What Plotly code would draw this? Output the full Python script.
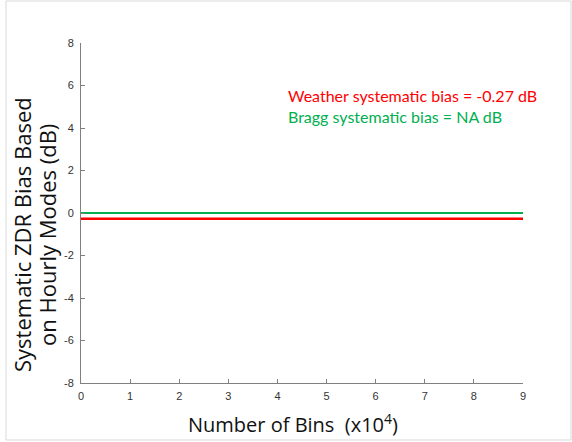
import plotly.graph_objects as go

x_bins = [0, 9]
weather_bias = [-0.27, -0.27]
bragg_bias = [0.0, 0.0]
x_ticks = [0, 1, 2, 3, 4, 5, 6, 7, 8, 9]
y_ticks = [-8, -6, -4, -2, 0, 2, 4, 6, 8]
y_tick_labels = [str(v) for v in y_ticks]

W, H = 572, 442
ml, mr, mt, mb = 81, 49, 43, 59

fig = go.Figure()
fig.add_trace(go.Scatter(x=x_bins, y=bragg_bias, mode="lines",
                         line=dict(color="#00b050", width=2), showlegend=False))
fig.add_trace(go.Scatter(x=x_bins, y=weather_bias, mode="lines",
                         line=dict(color="#ff0000", width=2.5), showlegend=False))

ann_font = "Lato, 'Open Sans', sans-serif"
title_font = "Open Sans, sans-serif"
fig.add_annotation(x=4.17, y=5.54, xref="x", yref="y", xanchor="left", yanchor="middle",
                   text="Weather systematic bias = -0.27 dB", showarrow=False,
                   font=dict(family=ann_font, size=16, color="#ff0000"))
fig.add_annotation(x=4.17, y=4.55, xref="x", yref="y", xanchor="left", yanchor="middle",
                   text="Bragg systematic bias = NA dB", showarrow=False,
                   font=dict(family=ann_font, size=16, color="#00b050"))

pw, ph = W - ml - mr, H - mt - mb
def px(xp): return (xp - ml) / pw
def py(yp): return (H - mb - yp) / ph

# axis titles
fig.add_annotation(x=px(22), y=py(235), xref="paper", yref="paper", textangle=-90,
                   xanchor="center", yanchor="middle", showarrow=False,
                   text="Systematic ZDR Bias Based",
                   font=dict(family=title_font, size=22, color="#111111"))
fig.add_annotation(x=px(47), y=py(235), xref="paper", yref="paper", textangle=-90,
                   xanchor="center", yanchor="middle", showarrow=False,
                   text="on Hourly Modes (dB)",
                   font=dict(family=title_font, size=22, color="#111111"))
fig.add_annotation(x=px(293), y=py(423), xref="paper", yref="paper",
                   xanchor="center", yanchor="middle", showarrow=False,
                   text="Number of Bins  (x10<sup>4</sup>)",
                   font=dict(family=title_font, size=20, color="#111111"))

# outer light frame
fig.add_shape(type="rect", xref="paper", yref="paper",
              x0=px(6), x1=px(571), y0=py(440), y1=py(1),
              line=dict(color="#d9d9d9", width=1), layer="below")

tick_font = dict(family="Liberation Sans, Arial", size=11, color="#333333")
fig.update_xaxes(range=[0, 9], tickvals=x_ticks, ticks="inside", ticklen=4,
                 tickcolor="#808080", showline=True, linecolor="#808080", linewidth=1,
                 showgrid=False, zeroline=False, ticklabelstandoff=3,
                 tickfont=tick_font)
fig.update_yaxes(range=[-8, 8], tickvals=y_ticks, ticktext=y_tick_labels, ticks="inside",
                 ticklen=4, tickcolor="#808080", showline=True, linecolor="#808080",
                 linewidth=1, showgrid=False, zeroline=False, ticklabelstandoff=4,
                 tickfont=tick_font)

fig.update_layout(width=W, height=H, margin=dict(l=ml, r=mr, t=mt, b=mb),
                  plot_bgcolor="white", paper_bgcolor="white")
fig.write_html("out.html")
